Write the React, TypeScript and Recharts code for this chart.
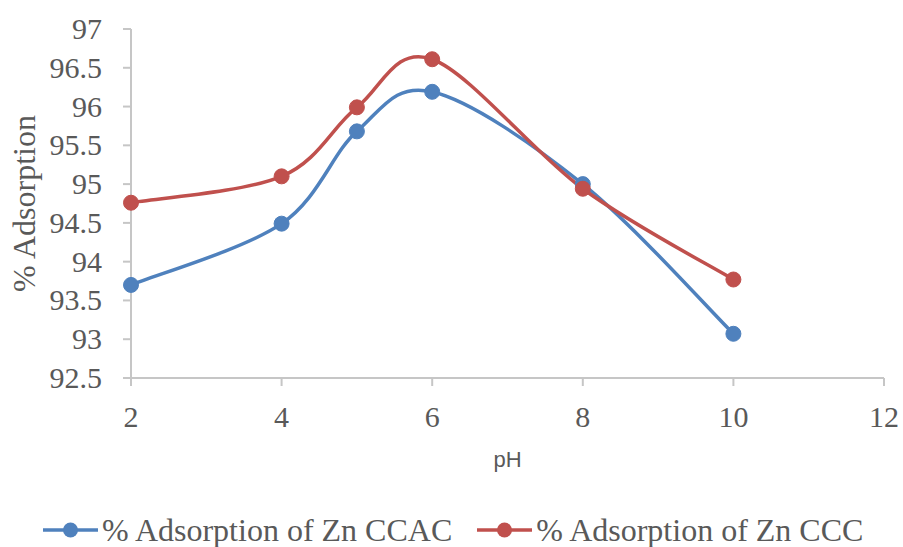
import { LineChart, Line, XAxis, YAxis } from "recharts";

const phValues = [2, 4, 5, 6, 8, 10];
const ccacValues = [93.7, 94.49, 95.68, 96.19, 95.0, 93.07];
const cccValues = [94.76, 95.1, 95.99, 96.61, 94.94, 93.77];
const xTicks = [2, 4, 6, 8, 10, 12];
const yTicks = [92.5, 93, 93.5, 94, 94.5, 95, 95.5, 96, 96.5, 97];
const seriesNames = ["% Adsorption of Zn CCAC", "% Adsorption of Zn CCC"];

const BLUE = "#4f81bd";
const RED = "#c0504d";
const GREY_TEXT = "#595959";
const SERIF = "'Liberation Serif', 'Times New Roman', serif";

const data = phValues.map((ph, i) => ({
  ph,
  ccac: ccacValues[i],
  ccc: cccValues[i],
}));

// excel-ish smoothing: cardinal bezier with 1/6 tangents
const excelCurve = (context: any) => {
  let pts: number[][] = [];
  return {
    areaStart() {},
    areaEnd() {},
    lineStart() {
      pts = [];
    },
    point(x: number, y: number) {
      pts.push([+x, +y]);
    },
    lineEnd() {
      if (!pts.length) return;
      context.moveTo(pts[0][0], pts[0][1]);
      for (let i = 0; i < pts.length - 1; i++) {
        const p0 = pts[i - 1] ?? pts[i];
        const p1 = pts[i];
        const p2 = pts[i + 1];
        const p3 = pts[i + 2] ?? pts[i + 1];
        context.bezierCurveTo(
          p1[0] + (p2[0] - p0[0]) / 6,
          p1[1] + (p2[1] - p0[1]) / 6,
          p2[0] - (p3[0] - p1[0]) / 6,
          p2[1] - (p3[1] - p1[1]) / 6,
          p2[0],
          p2[1]
        );
      }
    },
  };
};

const XTick = (props: any) => (
  <text
    x={props.x}
    y={props.y + 41}
    textAnchor="middle"
    fontSize={30}
    fill={GREY_TEXT}
    fontFamily={SERIF}
  >
    {props.payload.value}
  </text>
);

const YTick = (props: any) => (
  <text
    x={props.x}
    y={props.y + 10}
    textAnchor="end"
    fontSize={30}
    fill={GREY_TEXT}
    fontFamily={SERIF}
  >
    {props.payload.value}
  </text>
);

function LegendItem({ color, label }: { color: string; label: string }) {
  return (
    <div style={{ display: "flex", alignItems: "center" }}>
      <svg width={55} height={20} style={{ display: "block" }}>
        <line x1={0} y1={10} x2={55} y2={10} stroke={color} strokeWidth={3.5} />
        <circle cx={27.5} cy={10} r={7.5} fill={color} />
      </svg>
      <span
        style={{
          marginLeft: 4,
          fontSize: 32,
          lineHeight: "36px",
          color: GREY_TEXT,
          fontFamily: SERIF,
          whiteSpace: "nowrap",
        }}
      >
        {label}
      </span>
    </div>
  );
}

export default function App() {
  return (
    <div
      style={{
        position: "absolute",
        left: 0,
        top: 0,
        width: 903,
        height: 547,
        background: "#fff",
        overflow: "hidden",
      }}
    >
      <LineChart
        width={903}
        height={547}
        data={data}
        margin={{ top: 29, right: 19, left: 0, bottom: 0 }}
      >
        <XAxis
          dataKey="ph"
          type="number"
          domain={[2, 12]}
          ticks={xTicks}
          height={169}
          tickSize={8}
          tickMargin={0}
          tick={<XTick />}
          stroke="#c6c6c6"
          strokeWidth={2}
          label={(props: any) => {
            const vb = props.viewBox;
            return (
              <text
                x={vb.x + vb.width / 2}
                y={467}
                textAnchor="middle"
                fontSize={22}
                fill={GREY_TEXT}
                fontFamily="'Liberation Sans', Arial, sans-serif"
              >
                pH
              </text>
            );
          }}
        />
        <YAxis
          type="number"
          domain={[92.5, 97]}
          ticks={yTicks}
          width={131}
          tickSize={8}
          tickMargin={21}
          tick={<YTick />}
          stroke="#c6c6c6"
          strokeWidth={2}
          interval={0}
          label={(props: any) => {
            const vb = props.viewBox;
            const cy = vb.y + vb.height / 2;
            return (
              <text
                x={35}
                y={cy}
                transform={`rotate(-90, 35, ${cy})`}
                textAnchor="middle"
                fontSize={32}
                fill={GREY_TEXT}
                fontFamily={SERIF}
              >
                % Adsorption
              </text>
            );
          }}
        />
        <Line
          dataKey="ccac"
          name={seriesNames[0]}
          type={excelCurve as any}
          stroke={BLUE}
          strokeWidth={3.5}
          dot={{ r: 7.5, fill: BLUE, stroke: BLUE, strokeWidth: 1 }}
          isAnimationActive={false}
        />
        <Line
          dataKey="ccc"
          name={seriesNames[1]}
          type={excelCurve as any}
          stroke={RED}
          strokeWidth={3.5}
          dot={{ r: 7.5, fill: RED, stroke: RED, strokeWidth: 1 }}
          isAnimationActive={false}
        />
      </LineChart>
      <div
        style={{
          position: "absolute",
          top: 512,
          left: 43,
          display: "flex",
          gap: 25,
          alignItems: "center",
        }}
      >
        <LegendItem color={BLUE} label={seriesNames[0]} />
        <LegendItem color={RED} label={seriesNames[1]} />
      </div>
    </div>
  );
}
